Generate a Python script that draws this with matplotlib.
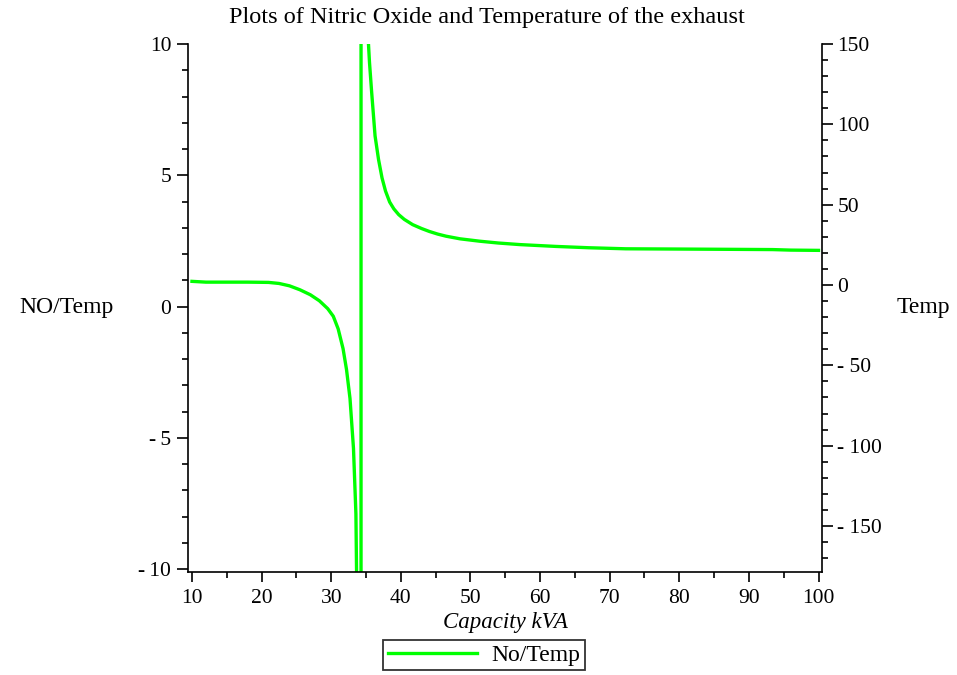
import matplotlib
matplotlib.use("Agg")
import matplotlib.pyplot as plt
from matplotlib.ticker import MultipleLocator, FuncFormatter

# ---- data ----
capacity = [10, 12, 15, 18, 21, 22.5, 24, 25.5, 27, 28.3, 29.5, 30.3, 31.0, 31.7,
            32.2, 32.7, 33.2, 33.55, 33.65, 33.7, 34.27,
            34.30, 35.25, 35.5, 35.8, 36.3, 36.8, 37.3, 37.8, 38.4, 39.0, 39.7, 40.5,
            41.7, 43.0, 44.1, 45.3, 46.5, 48.5, 51.3, 54, 57.1, 62.3, 67, 72.3, 80,
            87, 93.4, 96, 100]
no_temp = [0.96, 0.93, 0.93, 0.93, 0.92, 0.88, 0.79, 0.64, 0.45, 0.22, -0.08, -0.37,
           -0.85, -1.6, -2.4, -3.5, -5.4, -7.9, -10.3, -11, -1000,
           1000, 10.5, 9.3, 8.2, 6.5, 5.6, 4.9, 4.4, 3.98, 3.72, 3.5, 3.32,
           3.12, 2.97, 2.86, 2.76, 2.68, 2.58, 2.49, 2.42, 2.36, 2.29, 2.24, 2.2, 2.19,
           2.18, 2.17, 2.15, 2.14]

x_ticks = [10, 20, 30, 40, 50, 60, 70, 80, 90, 100]
left_ticks = [-10, -5, 0, 5, 10]
right_ticks = [-150, -100, -50, 0, 50, 100, 150]

title = "Plots of Nitric Oxide and Temperature of the exhaust"
series_label = "No/Temp"

serif = "Liberation Serif"
plt.rcParams["font.family"] = [serif, "DejaVu Serif"]

fig = plt.figure(figsize=(9.57, 6.75), dpi=100)
ax = fig.add_axes([188 / 957, 1 - 572 / 675, (822 - 188) / 957, (572 - 44) / 675])
ax2 = ax.twinx()

line, = ax.plot(capacity, no_temp, color="#00ff00", lw=2.4)

ax.set_xlim(9.43, 100.5)
ax.set_ylim(-10.11, 10)
ax2.set_ylim(-178.6, 150)

for a in (ax, ax2):
    a.spines["top"].set_visible(False)
    for s in a.spines.values():
        s.set_linewidth(1.2)

ax.spines["right"].set_visible(False)
ax2.spines["left"].set_visible(False)
ax2.spines["bottom"].set_visible(False)

ax.set_xticks(x_ticks)
ax.xaxis.set_minor_locator(MultipleLocator(5))
ax.set_yticks(left_ticks)
ax.yaxis.set_minor_locator(MultipleLocator(1))
ax2.set_yticks(right_ticks)
ax2.yaxis.set_minor_locator(MultipleLocator(10))

def fmt(v, pos):
    v = int(round(v))
    return ("-" + "\u2009" + str(-v)) if v < 0 else str(v)

ax.yaxis.set_major_formatter(FuncFormatter(fmt))
ax2.yaxis.set_major_formatter(FuncFormatter(lambda v, p: ("- " + str(-int(round(v)))) if v < 0 else str(int(round(v)))))

ax.tick_params(axis="both", which="major", direction="out", length=8, width=1.2,
               labelsize=15.5, pad=4)
ax.tick_params(axis="both", which="minor", direction="out", length=4, width=1.2)
ax.tick_params(axis="x", which="major", length=7, pad=5)
ax2.tick_params(axis="y", which="major", direction="out", length=8, width=1.2,
                labelsize=15.5, pad=3)
ax2.tick_params(axis="y", which="minor", direction="out", length=4, width=1.2)

ax.set_xlabel("Capacity kVA", fontsize=16.5, style="italic", labelpad=3)

fig.text(66 / 957, 1 - 308 / 675, "NO/Temp", fontsize=17, ha="center", va="center")
fig.text(923 / 957, 1 - 308 / 675, "Temp", fontsize=17, ha="center", va="center")
fig.text(487 / 957, 1 - 17 / 675, title, fontsize=17.5, ha="center", va="center")

leg = fig.legend([line], [series_label], loc="center",
                 bbox_to_anchor=(484 / 957, 1 - 655 / 675), fontsize=17,
                 frameon=True, fancybox=False, handlelength=3.8, borderpad=0.2,
                 handletextpad=0.6, borderaxespad=0)
leg.get_frame().set_edgecolor("black")
leg.get_frame().set_linewidth(1.3)

fig.savefig("out.png", dpi=100)
